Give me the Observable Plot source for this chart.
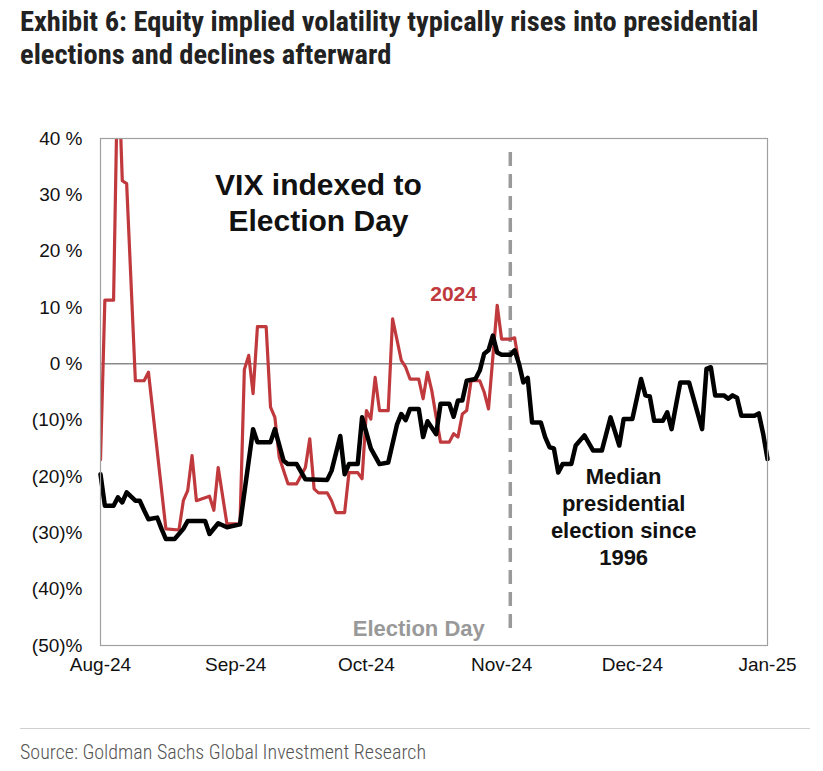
<!DOCTYPE html>
<html>
<head>
<meta charset="utf-8">
<script src="https://cdn.jsdelivr.net/npm/d3@7"></script>
<script src="https://cdn.jsdelivr.net/npm/@observablehq/plot@0.6"></script>
<style>
  html, body { margin: 0; padding: 0; background: #fff; }
  body { width: 823px; height: 771px; position: relative; overflow: hidden; font-family: "Liberation Sans", Arial, sans-serif; }
  #title { position: absolute; left: 20px; top: 5px; width: 803px; white-space: nowrap; font-family: "Liberation Sans Narrow", "Roboto", sans-serif; font-stretch: condensed; font-weight: bold; font-size: 28.5px; line-height: 33px; color: #222; }
  #chart { position: absolute; left: 0; top: 90px; }
  #rule { position: absolute; left: 20px; top: 728px; width: 790px; border-top: 1px solid #d0d0d0; }
  #source { position: absolute; left: 20px; top: 740px; font-family: "Liberation Sans Narrow", "Roboto", sans-serif; font-stretch: condensed; font-weight: 300; font-size: 20px; color: #555; }
</style>
</head>
<body>
<div id="title">Exhibit 6: Equity implied volatility typically rises into presidential<br>elections and declines afterward</div>
<div id="chart"></div>
<div id="rule"></div>
<div id="source">Source: Goldman Sachs Global Investment Research</div>
<script>
// 2024 VIX indexed to Election Day (%)
const dates2024 = ["2024-08-01","2024-08-02","2024-08-04","2024-08-05","2024-08-06","2024-08-07","2024-08-09","2024-08-11","2024-08-12","2024-08-16","2024-08-19","2024-08-20","2024-08-21","2024-08-22","2024-08-23","2024-08-26","2024-08-27","2024-08-28","2024-08-30","2024-09-02","2024-09-03","2024-09-04","2024-09-05","2024-09-06","2024-09-08","2024-09-09","2024-09-10","2024-09-11","2024-09-13","2024-09-15","2024-09-17","2024-09-18","2024-09-19","2024-09-20","2024-09-22","2024-09-23","2024-09-24","2024-09-26","2024-09-27","2024-09-29","2024-09-30","2024-10-01","2024-10-02","2024-10-03","2024-10-04","2024-10-06","2024-10-07","2024-10-09","2024-10-10","2024-10-11","2024-10-13","2024-10-14","2024-10-15","2024-10-16","2024-10-17","2024-10-18","2024-10-20","2024-10-21","2024-10-22","2024-10-23","2024-10-24","2024-10-25","2024-10-27","2024-10-28","2024-10-29","2024-10-31","2024-11-01","2024-11-03","2024-11-04","2024-11-05"];
const values2024 = [-17,11.3,11.3,55,32.5,32,-3,-3,-1.5,-29.3,-29.5,-24.3,-22.5,-16.3,-24.3,-23.5,-26,-18.4,-28.4,-28.4,-1,1.5,-5.3,6.6,6.6,-7.7,-9.5,-16.6,-21.3,-21.3,-18.4,-13.3,-22.2,-22.9,-22.9,-24.3,-26.4,-26.4,-19.3,-19.3,-20.4,-8.3,-9.8,-2.4,-8.3,-8.3,8.0,0.6,-0.6,-2.7,-2.7,-6.2,-1.5,-4.8,-9.5,-13.9,-13.9,-12.4,-13,-8.9,-8.3,-3,-3,-5,-8,10.4,4.4,4.4,4.6,0];

// Median presidential election since 1996 (%)
const datesMedian = ["2024-08-01","2024-08-02","2024-08-04","2024-08-05","2024-08-06","2024-08-07","2024-08-09","2024-08-10","2024-08-11","2024-08-12","2024-08-14","2024-08-15","2024-08-16","2024-08-18","2024-08-20","2024-08-21","2024-08-25","2024-08-26","2024-08-28","2024-08-30","2024-09-02","2024-09-05","2024-09-06","2024-09-09","2024-09-10","2024-09-12","2024-09-13","2024-09-15","2024-09-17","2024-09-22","2024-09-23","2024-09-25","2024-09-26","2024-09-27","2024-09-29","2024-09-30","2024-10-02","2024-10-04","2024-10-06","2024-10-08","2024-10-09","2024-10-10","2024-10-11","2024-10-13","2024-10-14","2024-10-15","2024-10-17","2024-10-18","2024-10-20","2024-10-21","2024-10-22","2024-10-23","2024-10-24","2024-10-26","2024-10-27","2024-10-28","2024-10-29","2024-10-30","2024-10-31","2024-11-01","2024-11-03","2024-11-04","2024-11-05","2024-11-06","2024-11-07","2024-11-08","2024-11-10","2024-11-11","2024-11-12","2024-11-13","2024-11-14","2024-11-15","2024-11-17","2024-11-18","2024-11-20","2024-11-22","2024-11-24","2024-11-26","2024-11-28","2024-11-29","2024-12-01","2024-12-03","2024-12-04","2024-12-05","2024-12-06","2024-12-08","2024-12-09","2024-12-10","2024-12-11","2024-12-12","2024-12-14","2024-12-17","2024-12-18","2024-12-19","2024-12-20","2024-12-22","2024-12-23","2024-12-24","2024-12-25","2024-12-26","2024-12-29","2024-12-30","2024-12-31","2025-01-01"];
const valuesMedian = [-19.6,-25.2,-25.2,-23.7,-24.6,-22.8,-24.3,-24.3,-26,-27.6,-27.3,-29.3,-31.1,-31.1,-29.3,-27.9,-27.9,-30.2,-28.3,-29,-28.5,-11.6,-13.9,-13.9,-11.6,-17.2,-17.8,-17.8,-20.5,-20.6,-19,-12.8,-19.6,-17.8,-17.8,-9.5,-15,-17.8,-17.5,-10.8,-8.9,-10,-8,-8,-13,-10.2,-12.5,-7.1,-7.1,-9.4,-6.5,-6.5,-3,-2.7,-1.2,1.8,2.4,5,2.0,1.6,1.6,2.4,0,-3.3,-2.5,-10.4,-10.4,-13,-14.8,-15,-19.3,-17.8,-17.8,-14.5,-12.7,-15.4,-15.4,-9.5,-14.5,-9.8,-9.8,-2.7,-5.6,-5.8,-10.1,-10.1,-8.6,-11.6,-7.4,-3.3,-3.3,-11.6,-0.9,-0.6,-5.6,-5.6,-6.2,-5.6,-6,-9.2,-9.2,-8.8,-12.4,-16.9];

const yTicks = [40,30,20,10,0,-10,-20,-30,-40,-50];
const xTicks = ["2024-08-01","2024-09-01","2024-10-01","2024-11-01","2024-12-01","2025-01-01"];
const electionDay = "2024-11-03";

const parse = d3.utcParse("%Y-%m-%d");
const series2024 = dates2024.map((d, i) => ({date: parse(d), value: values2024[i]}));
const seriesMedian = datesMedian.map((d, i) => ({date: parse(d), value: valuesMedian[i]}));

const red = "#c0393d";
const fmtY = v => v >= 0 ? `${v} %` : `(${-v})%`;

const chart = Plot.plot({
  width: 823,
  height: 620,
  marginLeft: 100,
  marginRight: 56,
  marginTop: 48,
  marginBottom: 65,
  style: {fontFamily: "'Liberation Sans', Arial, sans-serif", fontSize: "19px", color: "#111", background: "#fff"},
  x: {type: "utc", domain: [parse("2024-08-01"), parse("2025-01-01")], ticks: xTicks.map(parse), tickFormat: d3.utcFormat("%b-%y"), tickSize: 0, tickPadding: 12, label: null},
  y: {domain: [-50, 40], ticks: yTicks, tickFormat: fmtY, tickSize: 0, tickPadding: 18, label: null},
  marks: [
    Plot.ruleY([0], {stroke: "#8a8a8a", strokeWidth: 1.5}),
    Plot.ruleX([parse(electionDay)], {y1: -47, y2: 38.8, stroke: "#9a9a9a", strokeWidth: 3.5, strokeDasharray: "14,8"}),
    Plot.lineY(series2024, {x: "date", y: "value", stroke: red, strokeWidth: 3.2, clip: true, curve: "linear"}),
    Plot.lineY(seriesMedian, {x: "date", y: "value", stroke: "#000", strokeWidth: 4.5, curve: "linear"}),
    Plot.frame({stroke: "#a0a0a0", strokeWidth: 1.2}),
    Plot.text(["VIX indexed to\nElection Day"], {x: parse("2024-09-20"), y: 28.8, text: d => d, fontSize: 30, fontWeight: "bold", fill: "#111", lineHeight: 1.18}),
    Plot.text(["2024"], {x: parse("2024-10-21"), y: 12.3, text: d => d, fontSize: 21, fontWeight: "bold", fill: red}),
    Plot.text(["Median\npresidential\nelection since\n1996"], {x: parse("2024-11-29"), y: -27, text: d => d, fontSize: 22, fontWeight: "bold", fill: "#111", lineHeight: 1.23}),
    Plot.text(["Election Day"], {x: parse("2024-10-13"), y: -47.1, text: d => d, fontSize: 22, fontWeight: "bold", fill: "#999"})
  ]
});
document.getElementById("chart").appendChild(chart);
</script>
</body>
</html>
